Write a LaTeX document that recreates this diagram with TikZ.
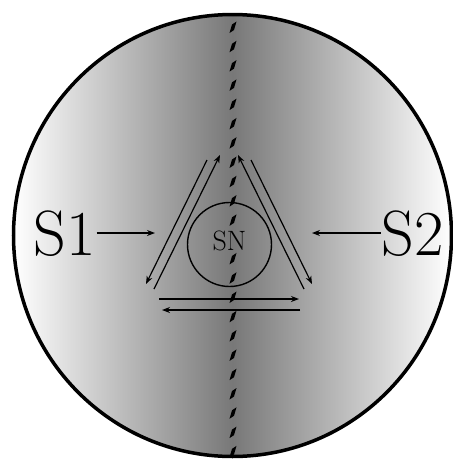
\documentclass[tikz,border=0pt]{standalone}
\usepackage{tikz}
\usetikzlibrary{arrows.meta}

\begin{document}
\begin{tikzpicture}[
  x=1pt,y=-1pt,
  sidelabel/.style={font=\fontsize{64}{64}\selectfont,inner sep=1pt,anchor=base},
  nucleus/.style={draw,circle,line width=1.4pt,minimum size=84pt,inner sep=0pt,text depth=8pt,font=\fontsize{28}{28}\selectfont},
  flow/.style={->,line width=1.2pt},
  >={Stealth[length=8pt,width=6pt]}
]
\useasboundingbox (0,0) rectangle (453,459);
\coordinate (c) at (232.5,235.5);
\shade[left color=white,right color=white,middle color=black!53] (c) ellipse[x radius=219pt,y radius=221pt];
\begin{scope}
  \clip (c) ellipse[x radius=219pt,y radius=221pt];
  \foreach \k in {0,...,10,12,13,...,22}
    \fill (229.5,{33+19.29*\k}) -- ++(4.5,-3) -- ++(2.5,-8.5) -- ++(-4.5,3) -- cycle;
\end{scope}

\node[sidelabel] (s1) at (64.5,255) {S1};
\node[sidelabel] (s2) at (413,255) {S2};
\node[nucleus] (sn) at (229.5,244.5) {SN};

\coordinate (s1tip) at (155,233);
\coordinate (s2tip) at (312,233);
\draw[flow] (s1.east |- s1tip) -- (s1tip);
\draw[flow] (s2.west |- s2tip) -- (s2tip);

\coordinate (lo1) at (207,160);
\coordinate (lo2) at (146,284);
\coordinate (li1) at (154,289);
\coordinate (li2) at (220,155);
\coordinate (ri1) at (304,289);
\coordinate (ri2) at (238,155);
\coordinate (ro1) at (251,160);
\coordinate (ro2) at (312,284);
\coordinate (bu1) at (159,299);
\coordinate (bu2) at (299,299);
\coordinate (bl1) at (300,310);
\coordinate (bl2) at (162,310);
\draw[flow] (lo1) -- (lo2);
\draw[flow] (li1) -- (li2);
\draw[flow] (ri1) -- (ri2);
\draw[flow] (ro1) -- (ro2);
\draw[flow] (bu1) -- (bu2);
\draw[flow] (bl1) -- (bl2);

\draw[line width=3.5pt] (c) ellipse[x radius=219pt,y radius=221pt];
\end{tikzpicture}
\end{document}
